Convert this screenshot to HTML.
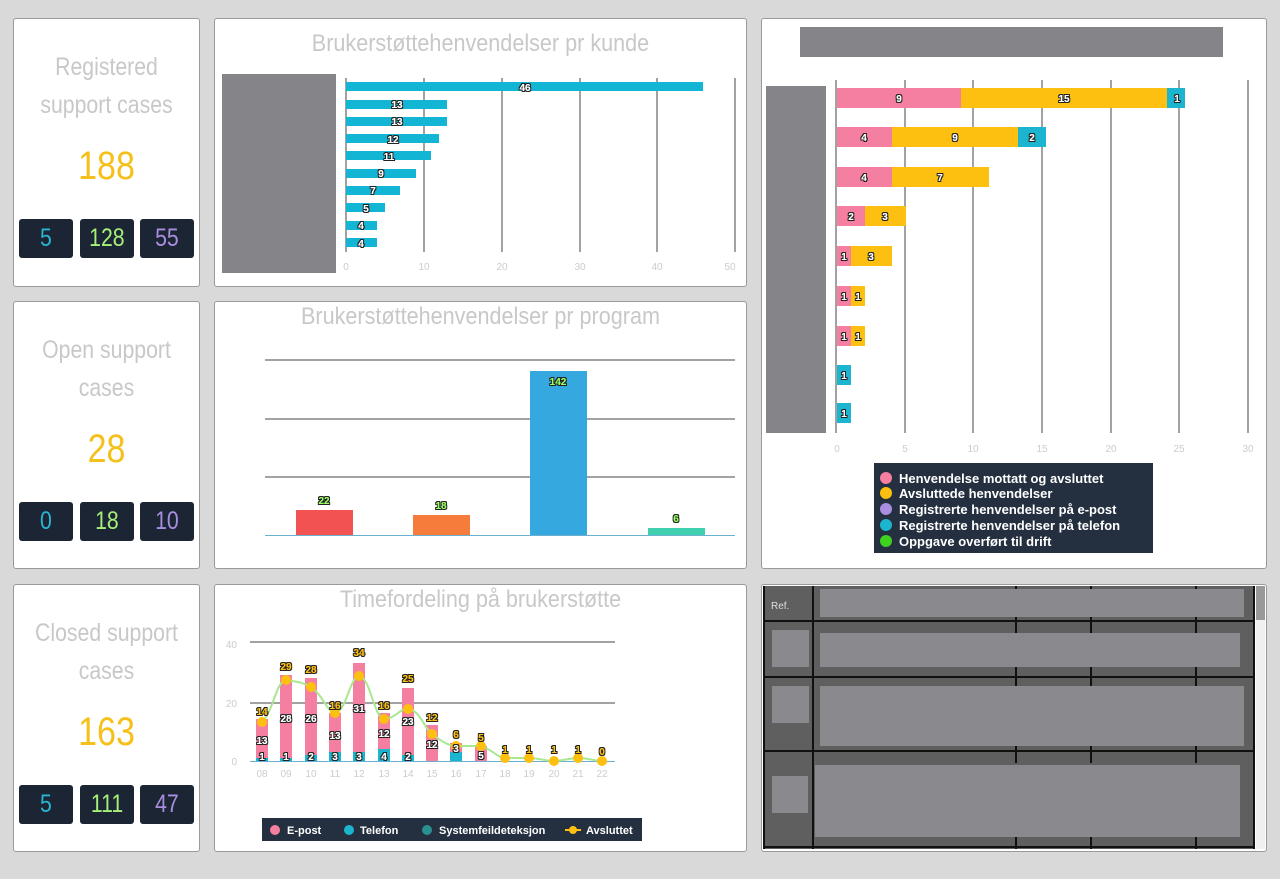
<!DOCTYPE html>
<html><head><meta charset="utf-8"><style>
body{margin:0;width:1280px;height:879px;background:#d9d9d9;position:relative;overflow:hidden;font-family:"Liberation Sans",sans-serif}
.p{position:absolute;background:#fff;border:1px solid #9a9a9a;border-radius:3px;box-sizing:border-box}
.t{position:absolute;left:0;right:0;text-align:center;color:#c8c8c8;font-size:25px;transform:scaleX(.85)}
.big{position:absolute;left:0;right:0;text-align:center;color:#f5c019;font-size:40px;transform:scaleX(.85)}
.b{position:absolute;width:54px;height:39px;background:#1c2533;border-radius:3px;text-align:center;line-height:39px;font-size:25px}
.b span{display:inline-block;transform:scaleX(.85)}
.ct{position:absolute;left:0;right:0;text-align:center;color:#c8c8c8;font-size:24px;transform:scaleX(.9)}
svg{position:absolute;left:0;top:0}
</style></head><body>
<div class="p" style="left:13px;top:18px;width:187px;height:269px">
<div class="t" style="top:29px;line-height:38px">Registered<br>support cases</div>
<div class="big" style="top:125px">188</div>
<div class="b" style="left:5px;top:200px;color:#29b6d3"><span>5</span></div>
<div class="b" style="left:66px;top:200px;color:#a6f07a"><span>128</span></div>
<div class="b" style="left:126px;top:200px;color:#a98ee0"><span>55</span></div>
</div>
<div class="p" style="left:13px;top:301px;width:187px;height:268px">
<div class="t" style="top:29px;line-height:38px">Open support<br>cases</div>
<div class="big" style="top:125px">28</div>
<div class="b" style="left:5px;top:200px;color:#29b6d3"><span>0</span></div>
<div class="b" style="left:66px;top:200px;color:#a6f07a"><span>18</span></div>
<div class="b" style="left:126px;top:200px;color:#a98ee0"><span>10</span></div>
</div>
<div class="p" style="left:13px;top:584px;width:187px;height:268px">
<div class="t" style="top:29px;line-height:38px">Closed support<br>cases</div>
<div class="big" style="top:125px">163</div>
<div class="b" style="left:5px;top:200px;color:#29b6d3"><span>5</span></div>
<div class="b" style="left:66px;top:200px;color:#a6f07a"><span>111</span></div>
<div class="b" style="left:126px;top:200px;color:#a98ee0"><span>47</span></div>
</div>
<div class="p" style="left:214px;top:18px;width:533px;height:269px"><div class="ct" style="top:11px">Brukerstøttehenvendelser pr kunde</div></div>
<div class="p" style="left:214px;top:301px;width:533px;height:268px"><div class="ct" style="top:1px">Brukerstøttehenvendelser pr program</div></div>
<div class="p" style="left:214px;top:584px;width:533px;height:268px"><div class="ct" style="top:1px">Timefordeling på brukerstøtte</div></div>
<div class="p" style="left:761px;top:18px;width:506px;height:551px"></div>
<div class="p" style="left:761px;top:584px;width:506px;height:268px"></div>
<svg width="1280" height="879" font-family="Liberation Sans, sans-serif">
<defs><filter id="o"><feMorphology operator="dilate" radius="1" in="SourceAlpha" result="d"/><feFlood flood-color="#222"/><feComposite in2="d" operator="in" result="s"/><feMerge><feMergeNode in="s"/><feMergeNode in="SourceGraphic"/></feMerge></filter></defs>
<rect x="222" y="74" width="114" height="199" fill="#858589"/>
<g stroke="#444" stroke-width="1"><line x1="346" y1="78" x2="346" y2="252"/><line x1="424" y1="78" x2="424" y2="252"/><line x1="502" y1="78" x2="502" y2="252"/><line x1="580" y1="78" x2="580" y2="252"/><line x1="657" y1="78" x2="657" y2="252"/><line x1="735" y1="78" x2="735" y2="252"/></g>
<g fill="#12b5d3">
<rect x="346" y="82" width="357" height="9"/><rect x="346" y="100" width="101" height="9"/><rect x="346" y="117" width="101" height="9"/><rect x="346" y="134" width="93" height="9"/><rect x="346" y="151" width="85" height="9"/><rect x="346" y="169" width="70" height="9"/><rect x="346" y="186" width="54" height="9"/><rect x="346" y="203" width="39" height="9"/><rect x="346" y="221" width="31" height="9"/><rect x="346" y="238" width="31" height="9"/></g>
<g fill="#fff" font-size="10" font-weight="bold" text-anchor="middle" filter="url(#o)">
<text x="525" y="91">46</text><text x="397" y="108">13</text><text x="397" y="125">13</text><text x="393" y="143">12</text><text x="389" y="160">11</text><text x="381" y="177">9</text><text x="373" y="194">7</text><text x="366" y="212">5</text><text x="361" y="229">4</text><text x="361" y="247">4</text></g>
<g fill="#ccc" font-size="10" text-anchor="middle"><text x="346" y="270">0</text><text x="424" y="270">10</text><text x="502" y="270">20</text><text x="580" y="270">30</text><text x="657" y="270">40</text><text x="730" y="270">50</text></g>
<g stroke="#444"><line x1="265" y1="360" x2="735" y2="360"/><line x1="265" y1="419" x2="735" y2="419"/><line x1="265" y1="477" x2="735" y2="477"/></g>
<line x1="265" y1="535.5" x2="735" y2="535.5" stroke="#6ab0d0"/>
<rect x="296" y="510" width="57" height="25" fill="#f25252"/><rect x="413" y="515" width="57" height="20" fill="#f57c3a"/><rect x="530" y="371" width="57" height="164" fill="#35a8e0"/><rect x="648" y="528" width="57" height="7" fill="#40d0b0"/>
<g font-size="10" font-weight="bold" text-anchor="middle" fill="#9f6" filter="url(#o)"><text x="324" y="504">22</text><text x="441" y="509">18</text><text x="558" y="385">142</text><text x="676" y="522">6</text></g>
<rect x="800" y="27" width="423" height="30" fill="#858589"/>
<rect x="766" y="86" width="60" height="347" fill="#858589"/>
<g stroke="#444"><line x1="836" y1="80" x2="836" y2="433"/><line x1="905" y1="80" x2="905" y2="433"/><line x1="973" y1="80" x2="973" y2="433"/><line x1="1042" y1="80" x2="1042" y2="433"/><line x1="1111" y1="80" x2="1111" y2="433"/><line x1="1179" y1="80" x2="1179" y2="433"/><line x1="1248" y1="80" x2="1248" y2="433"/></g>
<g>
<rect x="837" y="88" width="124" height="20" fill="#f57fa0"/><rect x="961" y="88" width="206" height="20" fill="#fdc010"/><rect x="1167" y="88" width="18" height="20" fill="#1cb5d0"/>
<rect x="837" y="127" width="55" height="20" fill="#f57fa0"/><rect x="892" y="127" width="126" height="20" fill="#fdc010"/><rect x="1018" y="127" width="28" height="20" fill="#1cb5d0"/>
<rect x="837" y="167" width="55" height="20" fill="#f57fa0"/><rect x="892" y="167" width="97" height="20" fill="#fdc010"/>
<rect x="837" y="206" width="28" height="20" fill="#f57fa0"/><rect x="865" y="206" width="41" height="20" fill="#fdc010"/>
<rect x="837" y="246" width="14" height="20" fill="#f57fa0"/><rect x="851" y="246" width="41" height="20" fill="#fdc010"/>
<rect x="837" y="286" width="14" height="20" fill="#f57fa0"/><rect x="851" y="286" width="14" height="20" fill="#fdc010"/>
<rect x="837" y="326" width="14" height="20" fill="#f57fa0"/><rect x="851" y="326" width="14" height="20" fill="#fdc010"/>
<rect x="837" y="365" width="14" height="20" fill="#1cb5d0"/><rect x="837" y="403" width="14" height="20" fill="#1cb5d0"/></g>
<g fill="#fff" font-size="10" font-weight="bold" text-anchor="middle" filter="url(#o)">
<text x="899" y="102">9</text><text x="1064" y="102">15</text><text x="1177" y="102">1</text>
<text x="864" y="141">4</text><text x="955" y="141">9</text><text x="1032" y="141">2</text>
<text x="864" y="181">4</text><text x="940" y="181">7</text>
<text x="851" y="220">2</text><text x="885" y="220">3</text>
<text x="844" y="260">1</text><text x="871" y="260">3</text>
<text x="844" y="300">1</text><text x="858" y="300">1</text>
<text x="844" y="340">1</text><text x="858" y="340">1</text>
<text x="844" y="379">1</text><text x="844" y="417">1</text></g>
<g fill="#ccc" font-size="10" text-anchor="middle"><text x="837" y="452">0</text><text x="905" y="452">5</text><text x="973" y="452">10</text><text x="1042" y="452">15</text><text x="1111" y="452">20</text><text x="1179" y="452">25</text><text x="1248" y="452">30</text></g>
<rect x="874" y="463" width="279" height="90" fill="#243040"/>
<g font-size="13" font-weight="bold" fill="#fff">
<circle cx="886" cy="478" r="6" fill="#f57fa0"/><text x="899" y="483">Henvendelse mottatt og avsluttet</text>
<circle cx="886" cy="493" r="6" fill="#fdc010"/><text x="899" y="498">Avsluttede henvendelser</text>
<circle cx="886" cy="509" r="6" fill="#a98ee0"/><text x="899" y="514">Registrerte henvendelser på e-post</text>
<circle cx="886" cy="525" r="6" fill="#1cb5d0"/><text x="899" y="530">Registrerte henvendelser på telefon</text>
<circle cx="886" cy="541" r="6" fill="#40d020"/><text x="899" y="546">Oppgave overført til drift</text></g>
<g stroke="#444"><line x1="250" y1="642" x2="615" y2="642"/><line x1="250" y1="703" x2="615" y2="703"/></g>
<line x1="250" y1="761.5" x2="615" y2="761.5" stroke="#6ab0d0"/>
<g fill="#ccc" font-size="10" text-anchor="end"><text x="237" y="648">40</text><text x="237" y="707">20</text><text x="237" y="765">0</text></g>
<g fill="#f57fa0">
<rect x="256" y="719" width="12" height="39"/><rect x="280" y="675" width="12" height="83"/><rect x="305" y="678" width="12" height="77"/><rect x="329" y="713" width="12" height="39"/><rect x="353" y="663" width="12" height="89"/><rect x="378" y="713" width="12" height="36"/><rect x="402" y="688" width="12" height="67"/><rect x="426" y="725" width="12" height="36"/><rect x="450" y="743" width="12" height="9"/><rect x="475" y="746" width="12" height="15"/></g>
<g fill="#1cb5d0"><rect x="256" y="758" width="12" height="3"/><rect x="280" y="758" width="12" height="3"/><rect x="305" y="755" width="12" height="6"/><rect x="329" y="752" width="12" height="9"/><rect x="353" y="752" width="12" height="9"/><rect x="378" y="749" width="12" height="12"/><rect x="402" y="755" width="12" height="6"/><rect x="450" y="752" width="12" height="9"/></g>
<path d="M262,722 C274,710 276,681 286,680 C298,682 302,682 311,687 C322,694 328,713 335,713 C346,712 350,677 359,676 C370,676 374,718 384,719 C395,719 400,708 408,709 C420,710 424,728 432,734 C440,740 448,746 456,746 C464,746 474,746 481,746 C490,748 498,758 505,758 C512,758 520,758 529,758 C538,758 546,761 554,761 C562,761 570,758 578,758 C588,758 595,761 602,761" fill="none" stroke="#a8e890" stroke-width="2"/>
<g fill="#fdc010"><circle cx="262" cy="722" r="5"/><circle cx="286" cy="680" r="5"/><circle cx="311" cy="687" r="5"/><circle cx="335" cy="713" r="5"/><circle cx="359" cy="676" r="5"/><circle cx="384" cy="719" r="5"/><circle cx="408" cy="709" r="5"/><circle cx="432" cy="734" r="5"/><circle cx="456" cy="746" r="5"/><circle cx="481" cy="746" r="5"/><circle cx="505" cy="758" r="5"/><circle cx="529" cy="758" r="5"/><circle cx="554" cy="761" r="5"/><circle cx="578" cy="758" r="5"/><circle cx="602" cy="761" r="5"/></g>
<g fill="#fff" font-size="10" font-weight="bold" text-anchor="middle" filter="url(#o)">
<text x="262" y="744">13</text><text x="286" y="722">28</text><text x="311" y="722">26</text><text x="335" y="739">13</text><text x="359" y="712">31</text><text x="384" y="737">12</text><text x="408" y="725">23</text><text x="432" y="748">12</text><text x="481" y="759">5</text>
<text x="262" y="760">1</text><text x="286" y="760">1</text><text x="311" y="760">2</text><text x="335" y="760">3</text><text x="359" y="760">3</text><text x="384" y="760">4</text><text x="408" y="760">2</text><text x="456" y="752">3</text></g>
<g fill="#fdc010" font-size="10" font-weight="bold" text-anchor="middle" filter="url(#o)">
<text x="262" y="715">14</text><text x="286" y="670">29</text><text x="311" y="673">28</text><text x="335" y="709">16</text><text x="359" y="656">34</text><text x="384" y="709">16</text><text x="408" y="682">25</text><text x="432" y="721">12</text><text x="456" y="738">6</text><text x="481" y="741">5</text><text x="505" y="753">1</text><text x="529" y="753">1</text><text x="554" y="753">1</text><text x="578" y="753">1</text><text x="602" y="755">0</text></g>
<g fill="#ccc" font-size="10" text-anchor="middle"><text x="262" y="777">08</text><text x="286" y="777">09</text><text x="311" y="777">10</text><text x="335" y="777">11</text><text x="359" y="777">12</text><text x="384" y="777">13</text><text x="408" y="777">14</text><text x="432" y="777">15</text><text x="456" y="777">16</text><text x="481" y="777">17</text><text x="505" y="777">18</text><text x="529" y="777">19</text><text x="554" y="777">20</text><text x="578" y="777">21</text><text x="602" y="777">22</text></g>
<rect x="262" y="818" width="380" height="23" fill="#243040"/>
<g font-size="11" font-weight="bold" fill="#fff">
<circle cx="275" cy="830" r="5" fill="#f57fa0"/><text x="287" y="834">E-post</text>
<circle cx="349" cy="830" r="5" fill="#1cb5d0"/><text x="360" y="834">Telefon</text>
<circle cx="427" cy="830" r="5" fill="#2a9090"/><text x="439" y="834">Systemfeildeteksjon</text>
<line x1="565" y1="830" x2="581" y2="830" stroke="#fdc010" stroke-width="2"/><circle cx="573" cy="830" r="4" fill="#fdc010"/><text x="586" y="834">Avsluttet</text></g>
<rect x="763" y="586" width="492" height="263" fill="#5f5f5f"/>
<rect x="1256" y="586" width="9" height="263" fill="#f0f0f0"/><rect x="1256" y="586" width="9" height="34" fill="#999"/>
<g stroke="#111" stroke-width="2"><line x1="763" y1="621" x2="1255" y2="621"/><line x1="763" y1="677" x2="1255" y2="677"/><line x1="763" y1="751" x2="1255" y2="751"/><line x1="763" y1="847" x2="1255" y2="847"/><line x1="813" y1="586" x2="813" y2="849"/><line x1="764" y1="586" x2="764" y2="849"/><line x1="1254" y1="586" x2="1254" y2="849"/>
<path d="M1016,586v48M1091,586v48M1196,586v48M1016,667v36M1091,667v36M1196,667v36M1016,743v20M1091,743v20M1196,743v20M1016,837v12M1091,837v12M1196,837v12"/></g>
<g fill="#8a8a8e"><rect x="820" y="589" width="424" height="28"/><rect x="772" y="630" width="37" height="37"/><rect x="820" y="633" width="420" height="34"/><rect x="772" y="686" width="37" height="37"/><rect x="820" y="686" width="424" height="60"/><rect x="772" y="776" width="36" height="37"/><rect x="815" y="765" width="425" height="72"/></g>
<text x="771" y="609" fill="#ddd" font-size="10">Ref.</text>
</svg>
</body></html>
